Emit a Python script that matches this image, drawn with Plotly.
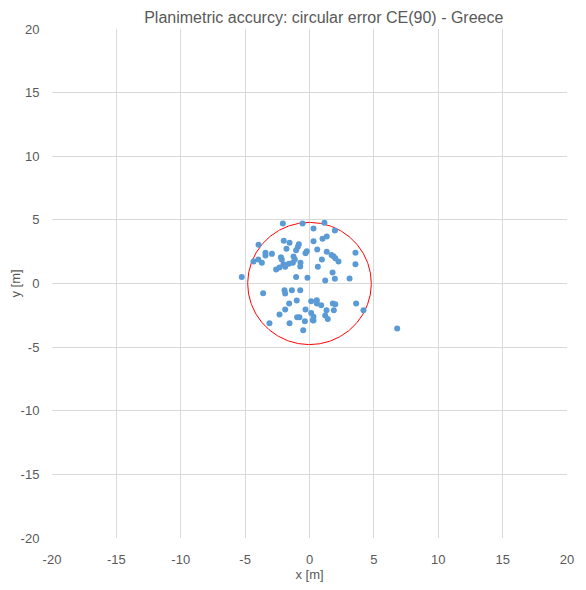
import numpy as np
import plotly.graph_objects as go

x_err = [-2.07, -0.54, 0.31, -3.96, -2.0, -1.55, -0.83, -0.9, -1.79, -1.04,
         -3.42, -3.42, -2.92, -2.22, -2.15, -1.24, -1.14, -0.21, -0.31, 0.6,
         -4.35, -3.98, -3.7, -2.02, -1.6, -1.29, -0.7, -0.72, -2.59, -2.33,
         -1.89, 0.65, -5.26, -1.04, -0.16,
         -1.94, -1.89, -1.37, -0.72, -3.6,
         1.16, 1.97, 0.31, 1.01, 1.34, 1.34, 1.71, 1.86, 2.0, 2.25,
         3.57, 3.57, 0.96, 1.79, 1.22, 1.97, 3.11,
         0.13, 0.57, 0.57, -1.58, -0.99, -2.33, -1.89, -0.31, 0.13, -0.96,
         -0.78, -1.55, -3.11, -0.36, 0.26, -0.49,
         0.91, 1.81, 2.0, 3.62, 1.32, 1.89, 0.31, 0.31, 1.22, 1.42, 4.19, 6.81]
y_err = [4.72, 4.72, 4.32, 3.04, 3.36, 3.2, 3.09, 2.88, 2.73, 2.62,
         2.41, 2.2, 2.33, 2.07, 1.89, 2.12, 1.89, 2.54, 2.38, 2.67,
         1.73, 1.89, 1.63, 1.52, 1.55, 1.63, 1.63, 1.34, 1.1, 1.26,
         1.31, 1.31, 0.52, 0.52, 0.45,
         -0.53, -0.79, -0.53, -0.53, -0.76,
         4.77, 4.17, 3.33, 3.51, 3.7, 2.49, 2.23, 2.15, 1.99, 1.73,
         2.41, 1.52, 1.89, 0.86, 0.24, 0.37, 0.39,
         -1.39, -1.31, -1.57, -1.57, -1.34, -2.44, -2.04, -2.04, -2.31, -2.65,
         -2.65, -3.12, -3.12, -2.96, -2.88, -3.67,
         -1.7, -1.57, -1.63, -1.57, -2.1, -2.1, -2.62, -2.91, -2.52, -2.78, -2.1, -3.54]

ce90_radius = 4.8
tick_vals = [-20, -15, -10, -5, 0, 5, 10, 15, 20]
tick_text = ["-20", "-15", "-10", "-5", "0", "5", "10", "15", "20"]

theta = np.linspace(0, 2 * np.pi, 361)
circle_x = ce90_radius * np.cos(theta)
circle_y = ce90_radius * np.sin(theta)

fig = go.Figure()
fig.add_trace(go.Scatter(x=circle_x, y=circle_y, mode="lines",
                         line=dict(color="#FF0000", width=1), hoverinfo="skip",
                         showlegend=False))
fig.add_trace(go.Scatter(x=x_err, y=y_err, mode="markers",
                         marker=dict(color="#5B9BD5", size=6), showlegend=False))

font_family = "Liberation Sans, Open Sans, sans-serif"
axis_common = dict(range=[-20, 20], tickvals=tick_vals, ticktext=tick_text,
                   showgrid=True,
                   gridcolor="#D9D9D9", gridwidth=1, zeroline=False,
                   showline=False, ticks="outside", ticklen=9,
                   tickcolor="rgba(0,0,0,0)", automargin=False,
                   tickfont=dict(size=13, color="#595959", family=font_family))

fig.update_layout(
    width=570, height=574,
    margin=dict(l=44, r=11, t=21, b=44),
    paper_bgcolor="white", plot_bgcolor="white",
    title=dict(text="Planimetric accurcy: circular error CE(90) - Greece",
               x=0.554, xref="container", y=1 - 9 / 574, yref="container",
               xanchor="center", yanchor="middle",
               font=dict(size=16, color="#595959", family=font_family)),
    xaxis=dict(**axis_common, title=dict(text="x [m]", standoff=4,
               font=dict(size=13, color="#595959", family=font_family))),
    yaxis=dict(**axis_common, title=dict(text="y [m]", standoff=12,
               font=dict(size=13, color="#595959", family=font_family))),
)

fig.write_html("out.html")
